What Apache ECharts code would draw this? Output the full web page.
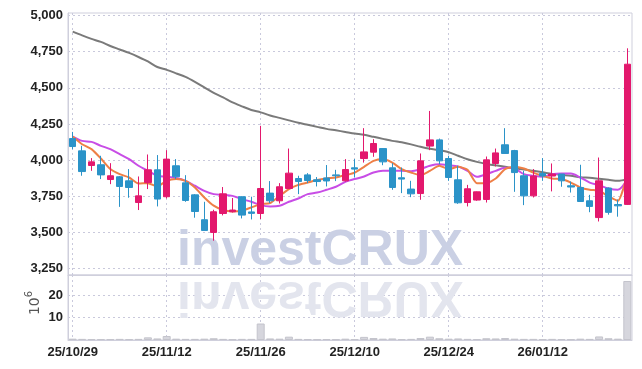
<!DOCTYPE html>
<html><head><meta charset="utf-8">
<script src="https://cdn.jsdelivr.net/npm/echarts@6/dist/echarts.min.js"></script>
<style>html,body{margin:0;padding:0;background:#fff}#c{width:642px;height:369px}</style>
</head><body><div id="c"></div>
<script>
const dates = ["25/10/29","25/10/30","25/10/31","25/11/03","25/11/04","25/11/05","25/11/06","25/11/07","25/11/10","25/11/11",
"25/11/12","25/11/13","25/11/14","25/11/17","25/11/18","25/11/19","25/11/20","25/11/21","25/11/24","25/11/25",
"25/11/26","25/11/27","25/11/28","25/12/01","25/12/02","25/12/03","25/12/04","25/12/05","25/12/08","25/12/09",
"25/12/10","25/12/11","25/12/12","25/12/15","25/12/16","25/12/17","25/12/18","25/12/19","25/12/22","25/12/23",
"25/12/24","25/12/26","25/12/29","25/12/30","26/01/02","26/01/05","26/01/06","26/01/07","26/01/08","26/01/09",
"26/01/12","26/01/13","26/01/14","26/01/15","26/01/16","26/01/19","26/01/20","26/01/21","26/01/22","26/01/23"];
const opens = [4149,4064,3963,3968,3866,3885,3857,3707,3845,3933,3747,3961,3843,3760,3588,3500,3631,3643,3747,3642,
3631,3772,3719,3804,3873,3898,3864,3877,3898,3857,3947,4011,4055,4080,3947,3878,3800,3769,4097,4140,
4011,3864,3707,3724,3728,3977,4106,4066,3892,3753,3908,3890,3904,3823,3811,3719,3603,3807,3693,3694];
const closes = [4094,3921,3988,3898,3892,3818,3811,3753,3933,3731,4007,3885,3721,3645,3514,3643,3767,3655,3620,3632,
3804,3719,3816,3910,3852,3859,3852,3856,3892,3935,3938,4057,4115,3988,3811,3869,3767,3995,4140,3995,
3880,3705,3802,3781,4002,4050,4046,3914,3753,3890,3890,3904,3857,3814,3714,3680,3857,3639,3684,4663];
const lows = [4075,3892,3926,3869,3834,3677,3740,3655,3800,3680,3735,3869,3712,3602,3514,3443,3618,3638,3597,3590,
3593,3703,3700,3800,3765,3841,3818,3818,3855,3852,3880,3983,4023,3965,3795,3772,3744,3726,4069,3972,
3857,3698,3680,3719,3707,3956,4044,3781,3689,3742,3857,3784,3816,3776,3712,3640,3576,3623,3609,3690];
const highs = [4195,4099,4014,4030,3979,3890,3938,3887,4039,4035,4069,4007,3896,3765,3712,3657,3814,3738,3750,3747,
4237,3855,3841,4080,3892,3910,3883,3966,3933,4007,4007,4221,4145,4082,3979,3949,3857,4046,4340,4149,
4030,3961,3829,3783,4025,4080,4221,4071,3926,3938,4014,3977,3904,3852,3968,3760,4018,3811,3728,4773];
const ma5 = [4163,4110,4076,4011,3938,3903,3880,3838,3841,3818,3857,3869,3857,3811,3742,3685,3655,3645,3650,3673,
3696,3703,3753,3800,3829,3845,3862,3873,3880,3896,3914,3954,3995,4007,3983,3938,3914,3896,3926,3961,
3938,3954,3933,3841,3841,3873,3938,3954,3942,3914,3892,3873,3869,3845,3811,3795,3788,3749,3719,3903];
const ma20 = [4163,4133,4126,4099,4076,4041,4007,3961,3926,3892,3885,3876,3857,3823,3788,3765,3760,3753,3731,3712,
3689,3680,3684,3712,3735,3765,3776,3795,3816,3850,3869,3887,3914,3926,3926,3926,3924,3938,3961,3971,
3965,3956,3926,3885,3903,3926,3947,3942,3903,3892,3885,3903,3907,3907,3880,3845,3827,3804,3795,3869];
const ma60 = [4888,4862,4838,4817,4789,4765,4741,4713,4682,4644,4624,4600,4575,4541,4503,4465,4434,4399,4372,4347,
4330,4309,4292,4275,4258,4244,4230,4216,4206,4195,4184,4175,4161,4147,4133,4123,4109,4092,4078,4068,
4054,4030,4006,3988,3974,3964,3954,3943,3936,3926,3916,3905,3898,3892,3881,3878,3871,3864,3857,3867];
const volumes = [0.6,0.5,0.4,0.4,0.4,0.5,0.4,0.5,1.2,0.7,1.8,0.6,0.5,0.5,0.6,0.8,0.5,0.3,0.5,0.5,
7.4,0.7,0.6,1.5,0.5,0.4,0.3,0.4,0.3,0.6,0.4,1.4,0.9,0.6,0.7,0.4,0.5,0.9,1.5,0.8,
0.6,0.7,0.5,0.4,0.8,0.7,0.9,0.6,0.5,0.5,0.4,0.5,0.4,0.3,0.6,0.5,1.6,0.8,0.6,26.5];
const priceTicks = [3250,3500,3750,4000,4250,4500,4750,5000];
const volTicks = [10,20];

const candles = opens.map((o,i)=>[o, closes[i], lows[i], highs[i]]);
const labelFont = 'Liberation Sans, Arial, sans-serif';
const gridLine = {show:true, lineStyle:{color:'#c9c9dc', type:[2,3], width:1}};
const vGridLine = {show:true, interval:9, alignWithLabel:true, lineStyle:{color:'#c9c9dc', type:[2,3], width:1}};
const chart = echarts.init(document.getElementById('c'), null, {renderer:'canvas'});
chart.setOption({
  animation:false,
  backgroundColor:'#fff',
  grid:[
    {left:68, right:10, top:13, height:262, show:true, borderColor:'#cfcfdc', borderWidth:1},
    {left:68, right:10, top:275, height:65, show:true, borderColor:'#cfcfdc', borderWidth:1}
  ],
  graphic:[
    {type:'text', x:177, y:251, z:1, style:{text:'investCRUX', font:'bold 50px Liberation Sans, Arial, sans-serif', fill:'#cad0e4', verticalAlign:'middle', align:'left'}},
    {type:'text', x:177, y:296, z:1, scaleY:-1, style:{text:'investCRUX', font:'bold 50px Liberation Sans, Arial, sans-serif', fill:'#e3e5ee', verticalAlign:'middle', align:'left'}},
    {type:'text', x:33, y:303, rotation:Math.PI/2, z:5, style:{
      text:'{a|10}{b|6}', align:'center', verticalAlign:'middle',
      rich:{a:{fontSize:14, fontFamily:'DejaVu Sans, sans-serif', fill:'#555', lineHeight:18, verticalAlign:'bottom'},
            b:{fontSize:10, fontFamily:'DejaVu Sans, sans-serif', fill:'#555', lineHeight:18, verticalAlign:'top'}}}}
  ],
  xAxis:[
    {type:'category', gridIndex:0, data:dates, boundaryGap:true,
     axisLine:{show:true, lineStyle:{color:'#cfcfdc'}}, axisTick:{show:false, alignWithLabel:true, interval:9}, axisLabel:{show:false, interval:9},
     splitLine:vGridLine},
    {type:'category', gridIndex:1, data:dates, boundaryGap:true,
     axisLine:{show:true, lineStyle:{color:'#cfcfdc'}}, axisTick:{show:false, alignWithLabel:true, interval:9},
     axisLabel:{interval:9, margin:6, fontFamily:labelFont, fontWeight:'bold', fontSize:13, color:'#222'},
     splitLine:vGridLine}
  ],
  yAxis:[
    {type:'value', gridIndex:0, min:3206, max:5017, scale:true,
     axisLine:{show:true, lineStyle:{color:'#cfcfdc'}},
     axisTick:{show:false, customValues:priceTicks},
     axisLabel:{customValues:priceTicks, margin:5, fontFamily:labelFont, fontWeight:'bold', fontSize:13, color:'#222',
       formatter:v=>v.toLocaleString('en-US')},
     splitLine:gridLine},
    {type:'value', gridIndex:1, min:0, max:29.2,
     axisLine:{show:true, lineStyle:{color:'#cfcfdc'}},
     axisTick:{show:false, customValues:volTicks},
     axisLabel:{customValues:volTicks, margin:5, fontFamily:labelFont, fontWeight:'bold', fontSize:13, color:'#222'},
     splitLine:gridLine}
  ],
  series:[
    {type:'line', xAxisIndex:0, yAxisIndex:0, data:ma60, showSymbol:false, smooth:0.3, z:3,
     lineStyle:{color:'#7a7a7a', width:2}},
    {type:'line', xAxisIndex:0, yAxisIndex:0, data:ma20, showSymbol:false, smooth:0.3, z:3,
     lineStyle:{color:'#c84de6', width:2}},
    {type:'line', xAxisIndex:0, yAxisIndex:0, data:ma5, showSymbol:false, smooth:0.2, z:3,
     lineStyle:{color:'#ee7f46', width:2}},
    {type:'candlestick', xAxisIndex:0, yAxisIndex:0, data:candles, barWidth:7, z:4,
     itemStyle:{color:'#e3186d', color0:'#2b93c8', borderColor:'#e3186d', borderColor0:'#2b93c8', borderWidth:1}},
    {type:'bar', xAxisIndex:1, yAxisIndex:1, data:volumes, barWidth:8,
     itemStyle:{color:'#d6d6dd', borderColor:'#c4c4cc', borderWidth:1}}
  ]
});
</script></body></html>
